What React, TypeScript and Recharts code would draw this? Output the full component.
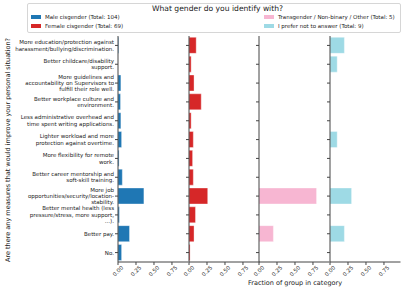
import React from 'react';
import { BarChart, Bar, XAxis, YAxis } from 'recharts';

const categories = [
  'More education/protection against\nharassment/bullying/discrimination.',
  'Better childcare/disability\nsupport.',
  'More guidelines and\naccountability on Supervisors to\nfulfill their role well.',
  'Better workplace culture and\nenvironment.',
  'Less administrative overhead and\ntime spent writing applications.',
  'Lighter workload and more\nprotection against overtime.',
  'More flexibility for remote\nwork.',
  'Better career mentorship and\nsoft-skill training.',
  'More job\nopportunities/security/location-\nstability.',
  'Better mental health (less\npressure/stress, more support,\n...).',
  'Better pay.',
  'No.',
];

const groups = ['Male cisgender', 'Female cisgender', 'Transgender / Non-binary / Other', 'I prefer not to answer'];
const totals = [104, 69, 5, 9];
const colors = ['#1f77b4', '#d62728', '#f7b6d2', '#9edae5'];

const male = [0.01, 0.0, 0.04, 0.035, 0.04, 0.05, 0.015, 0.06, 0.36, 0.02, 0.16, 0.05];
const female = [0.1, 0.03, 0.07, 0.17, 0.03, 0.06, 0.05, 0.06, 0.26, 0.09, 0.07, 0.015];
const trans = [0, 0, 0, 0, 0, 0, 0, 0, 0.8, 0, 0.2, 0];
const noAnswer = [0.2, 0.1, 0, 0, 0, 0.1, 0, 0, 0.3, 0, 0.2, 0];
const xTicks = [0, 0.25, 0.5, 0.75];

const keys = ['male', 'female', 'trans', 'noAnswer'];
const rows = categories.map((cat, i) => ({
  cat,
  male: male[i],
  female: female[i],
  trans: trans[i],
  noAnswer: noAnswer[i],
}));

const PANEL_LEFT = [118, 188.5, 259.2, 330];
const PANEL_W = 70.5;
const PLOT_TOP = 36;
const PLOT_H = 226;
const X_MAX = 0.98;
const SPINE = '#444';
const TEXT = '#222';

const RotTick = (props: any) => {
  const { x, y, payload } = props;
  return (
    <text
      transform={`translate(${x},${y + 4}) rotate(-45)`}
      textAnchor="middle"
      dominantBaseline="central"
      fontSize={5.5}
      fill={TEXT}
    >
      {Number(payload.value).toFixed(2)}
    </text>
  );
};

const CatTick = (props: any) => {
  const { x, y, payload } = props;
  const lines = String(payload.value).split('\n');
  const lh = 6.4;
  return (
    <text x={x} y={y} textAnchor="end" fontSize={5.5} fill={TEXT}>
      {lines.map((l, i) => (
        <tspan key={i} x={x} y={y + (i - (lines.length - 1) / 2) * lh} dy="0.35em">
          {l}
        </tspan>
      ))}
    </text>
  );
};

const EmptyTick = () => <g />;

function Panel({ idx }: { idx: number }) {
  const showLabels = idx === 0;
  const yw = showLabels ? 118 : 10;
  return (
    <div style={{ position: 'absolute', left: PANEL_LEFT[idx] - yw, top: PLOT_TOP - 1 }}>
      <BarChart
        width={yw + PANEL_W + 1}
        height={PLOT_H + 31}
        data={rows}
        layout="vertical"
        margin={{ top: 1, right: 1, bottom: 0, left: 0 }}
        barCategoryGap="7%"
      >
        <XAxis
          type="number"
          domain={[0, X_MAX]}
          ticks={xTicks}
          interval={0}
          height={30}
          tick={<RotTick />}
          tickSize={3}
          tickLine={{ stroke: SPINE }}
          axisLine={{ stroke: SPINE }}
          allowDataOverflow
        />
        <XAxis
          xAxisId="top"
          orientation="top"
          type="number"
          domain={[0, X_MAX]}
          height={0}
          tick={false}
          tickLine={false}
          axisLine={{ stroke: SPINE }}
        />
        <YAxis
          type="category"
          dataKey="cat"
          width={yw}
          interval={0}
          tick={showLabels ? <CatTick /> : <EmptyTick />}
          tickSize={3}
          tickMargin={1}
          tickLine={{ stroke: SPINE }}
          axisLine={{ stroke: SPINE }}
        />
        <YAxis
          yAxisId="right"
          orientation="right"
          type="category"
          dataKey="cat"
          width={0}
          tick={false}
          tickLine={false}
          axisLine={{ stroke: SPINE }}
        />
        <Bar
          dataKey={keys[idx]}
          fill={colors[idx]}
          stroke="#ffffff"
          strokeOpacity={0.6}
          strokeWidth={0.6}
          isAnimationActive={false}
        />
      </BarChart>
    </div>
  );
}

const legendPos = [
  { sx: 31, tx: 45, y: 17 },
  { sx: 31, tx: 45, y: 25.5 },
  { sx: 264, tx: 278, y: 17 },
  { sx: 264, tx: 278, y: 25.5 },
];

export default function App() {
  return (
    <div
      style={{
        position: 'absolute',
        left: 0,
        top: 0,
        width: 407,
        height: 291,
        background: '#fff',
        fontFamily: '"DejaVu Sans", sans-serif',
        color: TEXT,
        overflow: 'hidden',
      }}
    >
      <div
        style={{
          position: 'absolute',
          left: 27,
          top: 3,
          width: 372,
          height: 28,
          border: '1px solid #d6d6d6',
          borderRadius: 2,
        }}
      />
      <div style={{ position: 'absolute', left: 152, top: 4, fontSize: 7.6, lineHeight: '10px', whiteSpace: 'nowrap' }}>
        What gender do you identify with?
      </div>
      {groups.map((g, i) => (
        <React.Fragment key={g}>
          <div
            style={{
              position: 'absolute',
              left: legendPos[i].sx,
              top: legendPos[i].y - 2,
              width: 10,
              height: 4,
              background: colors[i],
            }}
          />
          <div
            style={{
              position: 'absolute',
              left: legendPos[i].tx,
              top: legendPos[i].y - 4,
              fontSize: 5.5,
              lineHeight: '8px',
              whiteSpace: 'nowrap',
            }}
          >
            {`${g} (Total: ${totals[i]})`}
          </div>
        </React.Fragment>
      ))}
      {[0, 1, 2, 3].map((i) => (
        <Panel key={i} idx={i} />
      ))}
      <div
        style={{
          position: 'absolute',
          left: 8,
          top: 150,
          fontSize: 6.5,
          lineHeight: '8px',
          whiteSpace: 'nowrap',
          transform: 'translate(-50%, -50%) rotate(-90deg)',
        }}
      >
        Are there any measures that would improve your personal situation?
      </div>
      <div
        style={{
          position: 'absolute',
          left: 295,
          top: 283,
          fontSize: 6.5,
          lineHeight: '8px',
          whiteSpace: 'nowrap',
          transform: 'translate(-50%, -50%)',
        }}
      >
        Fraction of group in category
      </div>
    </div>
  );
}
